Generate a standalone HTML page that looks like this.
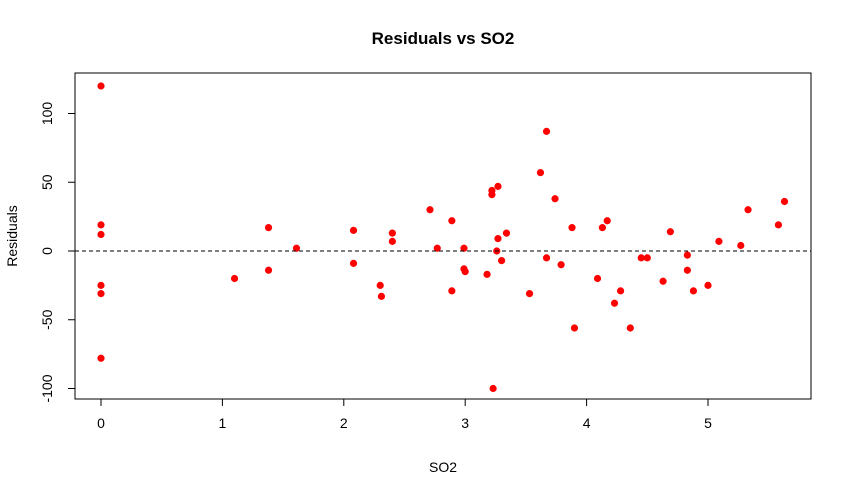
<!DOCTYPE html>
<html><head><meta charset="utf-8"><style>
body{margin:0;background:#fff;}
svg text{font-family:"Liberation Sans",Arial,sans-serif;}
</style></head><body>
<svg id="chart" width="843" height="494">
<text x="443" y="44" text-anchor="middle" font-size="17" font-weight="bold">Residuals vs SO2</text>
<text x="443" y="472" text-anchor="middle" font-size="14">SO2</text>
<text transform="translate(17,236) rotate(-90)" text-anchor="middle" font-size="14">Residuals</text>
<rect x="75" y="73" width="736" height="326" fill="none" stroke="#000"/>
<g id="xt"></g><g id="yt"></g><g id="pts"></g>
</svg>
<script>
const xs=[0,0,0,0,0,0,1.10,1.38,1.38,1.61,2.08,2.08,2.30,2.31,2.40,2.40,2.71,2.77,2.89,2.89,2.99,2.99,3.00,3.18,3.22,3.22,3.26,3.30,3.34,3.27,3.27,3.23,3.53,3.62,3.67,3.67,3.74,3.79,3.88,3.90,4.09,4.13,4.17,4.23,4.28,4.36,4.45,4.50,4.63,4.69,4.83,4.83,4.88,5.0,5.09,5.27,5.33,5.58,5.63];
const ys=[120,19,12,-25,-31,-78,-20,17,-14,2,15,-9,-25,-33,13,7,30,2,22,-29,2,-13,-15,-17,44,41,0,-7,13,47,9,-100,-31,57,87,-5,38,-10,17,-56,-20,17,22,-38,-29,-56,-5,-5,-22,14,-3,-14,-29,-25,7,4,30,19,36];
const xTicks=[0,1,2,3,4,5];
const yTicks=[-100,-50,0,50,100];
const NS="http://www.w3.org/2000/svg";
function sx(v){return 101+v*121.4;}
function sy(v){return 251-v*1.375;}
function mk(t,a,p){const e=document.createElementNS(NS,t);for(const k in a)e.setAttribute(k,a[k]);p.appendChild(e);return e;}
const svg=document.getElementById('chart');
const xt=document.getElementById('xt'),yt=document.getElementById('yt'),pts=document.getElementById('pts');
mk('line',{x1:sx(0),x2:sx(5),y1:399,y2:399,stroke:'#000'},xt);
xTicks.forEach(v=>{
 mk('line',{x1:sx(v),x2:sx(v),y1:399,y2:406,stroke:'#000'},xt);
 const t=mk('text',{x:sx(v),y:428,'text-anchor':'middle','font-size':14},xt);t.textContent=v;
 
 
});
mk('line',{x1:75,x2:75,y1:sy(-100),y2:sy(100),stroke:'#000'},yt);
yTicks.forEach(v=>{
 mk('line',{x1:68,x2:75,y1:sy(v),y2:sy(v),stroke:'#000'},yt);
 const t=mk('text',{transform:`translate(52,${sy(v)}) rotate(-90)`,'text-anchor':'middle','font-size':14},yt);t.textContent=v;
 
 
});
const zl=mk('line',{x1:75,x2:811,y1:sy(0),y2:sy(0),stroke:'#000','stroke-dasharray':'4,3'},svg);


xs.forEach((x,i)=>{
 const c=mk('circle',{cx:sx(x),cy:sy(ys[i]),r:3.6,fill:'#f00'},pts);
 
 
});
</script>
</body></html>
